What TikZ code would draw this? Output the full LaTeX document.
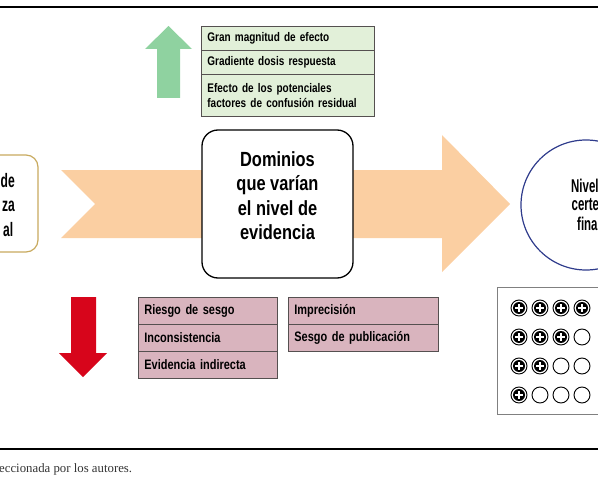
\documentclass[tikz,border=0pt]{standalone}
\usepackage{fontspec}
\usetikzlibrary{calc}
\newfontfamily\cond[FakeStretch=0.8,UprightFont=* Bold]{Liberation Sans}
\newfontfamily\condn[FakeStretch=0.62,UprightFont=* Bold]{Liberation Sans}
\newfontfamily\capfont{Liberation Serif}
\definecolor{peach}{RGB}{251,207,162}
\definecolor{gfill}{RGB}{226,240,217}
\definecolor{garrow}{RGB}{143,210,160}
\definecolor{pfill}{RGB}{217,180,190}
\definecolor{rarrow}{RGB}{215,5,27}
\definecolor{gold}{RGB}{200,170,95}
\definecolor{navy}{RGB}{47,60,140}
\definecolor{cellline}{RGB}{85,80,80}
\begin{document}
\begin{tikzpicture}[x=1pt,y=-1pt,
  gcell/.style={draw=cellline,line width=0.8pt,fill=gfill,rectangle,anchor=north west,
    minimum width=173pt,inner xsep=6pt,inner ysep=0pt,text width=161pt,align=left,
    font=\cond\fontsize{12.5}{14.5}\selectfont},
  pcell/.style={draw=cellline,line width=0.8pt,fill=pfill,rectangle,anchor=north west,
    minimum height=27pt,inner xsep=6pt,inner ysep=0pt,align=left,
    font=\cond\fontsize{13.7}{16}\selectfont},
  bigtxt/.style={font=\cond\fontsize{20.5}{24.5}\selectfont,inner sep=0pt},
  edgetxt/.style={font=\condn\fontsize{18.5}{20}\selectfont,inner sep=0pt},
  edgetxtl/.style={font=\condn\fontsize{19.5}{20}\selectfont,inner sep=0pt},
  ring/.style={draw=black,line width=0.9pt,circle,minimum size=16pt,inner sep=0pt},
]
\useasboundingbox (0,0) rectangle (598,487);
% rules
\draw[line width=1.8pt] (0,7) -- (598,7);
\draw[line width=1.8pt] (0,449) -- (598,449);
% big orange arrow
\fill[peach] (61,170) -- (442,170) -- (442,135) -- (510,204) -- (442,272) -- (442,238) -- (61,238) -- (95,204) -- cycle;
% left box (cropped)
\node[draw=gold,line width=1.2pt,fill=white,rounded corners=12pt,minimum width=80pt,minimum height=97pt] (start) at (-2,203.5) {};
\node[edgetxtl,anchor=east] (s1) at (15,181) {de};
\node[edgetxtl,anchor=east] (s2) at (15,206) {za};
\node[edgetxtl,anchor=east] (s3) at (13.5,230) {al};
% domain box
\node[draw=black,line width=1.3pt,fill=white,rounded corners=16pt,minimum width=151pt,minimum height=148pt] (dom) at (277.5,204) {};
\node[bigtxt,align=center] (domtxt) at (277.5,195.5) {Dominios\\que varían\\el nivel de\\evidencia};
% final circle (cropped)
\node[draw=navy,line width=1.2pt,circle,minimum size=130pt] (fin) at (586,205) {};
\node[edgetxt,anchor=west] (f1) at (571,186) {Nivel};
\node[edgetxt,anchor=west] (f2) at (571.5,205) {certe};
\node[edgetxt,anchor=west] (f3) at (577,224) {fina};
% green arrow
\fill[garrow] (157,98) -- (157,49) -- (145,49) -- (168.5,26) -- (192,49) -- (180,49) -- (180,98) -- cycle;
% green table
\node[gcell,minimum height=24pt] (g1) at (201,26) {Gran magnitud de efecto};
\node[gcell,minimum height=24pt] (g2) at (201,50) {Gradiente dosis respuesta};
\node[gcell,minimum height=42pt] (g3) at (201,74) {Efecto de los potenciales\\factores de confusión residual};
% red arrow
\fill[rarrow] (71,297) -- (96,297) -- (96,353) -- (107,353) -- (83,377) -- (59,353) -- (71,353) -- cycle;
% pink tables
\node[pcell,minimum width=139pt,text width=127pt] (p1) at (138,297) {Riesgo de sesgo};
\node[pcell,minimum width=139pt,text width=127pt] (p2) at (138,324) {Inconsistencia};
\node[pcell,minimum width=139pt,text width=127pt] (p3) at (138,351) {Evidencia indirecta};
\node[pcell,minimum width=150pt,text width=138pt] (p4) at (288,297) {Imprecisión};
\node[pcell,minimum width=150pt,text width=138pt] (p5) at (288,324) {Sesgo de publicación};
% certainty box
\node[draw=gray,line width=0.9pt,rectangle,anchor=north west,minimum width=101pt,minimum height=127pt] (cbox) at (497,287) {};
\foreach \r/\n in {0/4,1/3,2/2,3/1}{
  \foreach \c in {0,1,2,3}{
    \pgfmathtruncatemacro{\filled}{\c<\n ? 1 : 0}
    \ifnum\filled=1
      \node[ring,fill=white] (d\r\c) at (519+21*\c,308+29*\r) {};
      \fill[black] (d\r\c.center) circle (6pt);
      \fill[white] ($(d\r\c.center)+(-3.8,-1)$) rectangle ($(d\r\c.center)+(3.8,1)$);
      \fill[white] ($(d\r\c.center)+(-1,-3.8)$) rectangle ($(d\r\c.center)+(1,3.8)$);
    \else
      \node[ring] (d\r\c) at (519+21*\c,308+29*\r) {};
    \fi
  }
}
% caption
\node[anchor=west,inner sep=0pt,text=black!80,font=\capfont\fontsize{12.8}{15}\selectfont] (cap) at (-1,469) {eccionada por los autores.};
\end{tikzpicture}
\end{document}
